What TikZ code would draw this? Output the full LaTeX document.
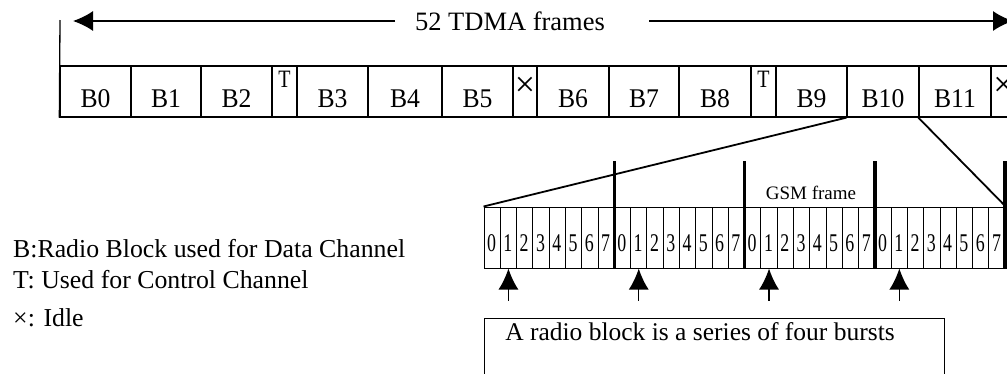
\documentclass[tikz,border=0pt]{standalone}
\usepackage{fontspec}
\setmainfont{Liberation Serif}
\newfontfamily\narrowserif{Liberation Serif}[FakeStretch=0.8]
\newfontfamily\digitserif{Liberation Serif}[FakeStretch=0.7]
\newfontfamily\cellserif{Liberation Serif}[FakeStretch=0.95]
\usetikzlibrary{arrows.meta}
\begin{document}
\begin{tikzpicture}[x=1pt,y=-1pt,
  cell/.style={draw, line width=1.3pt, inner sep=0pt, minimum height=51pt},
  btxt/.style={font=\cellserif\fontsize{27}{30}\selectfont, inner sep=0pt, anchor=base},
  ttxt/.style={font=\narrowserif\fontsize{25}{28}\selectfont, inner sep=0pt, anchor=base},
  xtxt/.style={font=\fontsize{36}{40}\selectfont, inner sep=0pt},
  slot/.style={draw, line width=1pt, inner sep=0pt, minimum width=16.29pt, minimum height=61pt},
  digit/.style={font=\digitserif\fontsize{25.5}{28}\selectfont, inner sep=0pt, anchor=base},
  thickbar/.style={line width=3.5pt},
  diag/.style={line width=1.8pt},
  framel/.style={line width=1.3pt},
  longarrow/.style={line width=1.5pt, -{Latex[length=20pt,width=20pt]}},
  uparrow/.style={line width=1.5pt, -{Latex[length=21pt,width=20pt]}},
  lbl/.style={font=\fontsize{25.8}{30}\selectfont, inner sep=0pt, anchor=base west}
]
\fill[white] (0,0) rectangle (1007,373);
\useasboundingbox (0,0) rectangle (1007,373);

% top row of cells
\foreach \i/\l/\r in {0/60/131,1/131/201,2/201/272,3/272/297,4/297/368,5/368/442,6/442/513,7/513/537,8/537/609,9/609/679,10/679/751,11/751/776,12/776/847,13/847/919,14/919/991,15/991/1016}{
  \node[cell, minimum width={\r-\l}] (c\i) at ({(\l+\r)/2},91.5) {};
}
\foreach \i/\t in {0/B0,1/B1,2/B2,4/B3,5/B4,6/B5,8/B6,9/B7,10/B8,12/B9,13/B10,14/B11}{
  \node[btxt] (t\i) at ([yshift=-15.5pt]c\i.center) {\t};
}
\foreach \i in {3,11}{
  \node[ttxt] (t\i) at ([yshift=4.5pt]c\i.center) {T};
}
\foreach \i in {7,15}{
  \node[xtxt] (t\i) at ([yshift=5pt]c\i.center) {×};
}

% left bracket line
\coordinate (vt) at (60,20);
\draw[framel] (vt) -- (c0.south west);

% 52 TDMA frames arrow
\node[font=\fontsize{26.5}{30}\selectfont, inner sep=0pt, anchor=base] (lab) at (510,30) {52 TDMA frames};
\coordinate (al) at (395,21);
\coordinate (ltip) at (73,21);
\coordinate (ar) at (649,21);
\coordinate (rtip) at (1013,21);
\draw[longarrow] (al) -- (ltip);
\draw[longarrow] (ar) -- (rtip);

% strip of slots
\foreach \f in {0,...,3}{
  \foreach \s in {0,...,7}{
    \pgfmathsetmacro\xl{484+130.3*\f+16.2875*\s}
    \node[slot] (s\f\s) at (\xl+8.144,237.5) {};
    \node[digit] (d\f\s) at (\xl+7.6,251) {\s};
  }
}
\foreach \f in {1,...,4}{
  \coordinate (bt\f) at ({484+130.3*\f},161);
  \draw[thickbar] (bt\f) -- (bt\f |- s00.south);
}
\node[font=\fontsize{19}{22}\selectfont, inner sep=0pt, anchor=base] (gsm) at (811,199) {GSM frame};

% zoom lines
\draw[diag] (c13.south west) -- (s00.north west);
\draw[diag] (c14.south west) -- (s37.north east);

% up arrows
\foreach \f in {0,...,3}{
  \coordinate (at\f) at ([yshift=-32pt]s\f1.south);
  \draw[uparrow] (at\f) -- (s\f1.south);
}

% explanation box
\node[draw, line width=1.3pt, inner sep=0pt, minimum width=460pt, minimum height=80pt, anchor=north west] (rbox) at (484,318) {};
\node[font=\fontsize{25.5}{30}\selectfont, inner sep=0pt, anchor=base] (rtxt) at (700,340) {A radio block is a series of four bursts};

% legend
\node[lbl] (lg1) at (13,257) {B:Radio Block used for Data Channel};
\node[lbl] (lg2) at (13,288) {T: Used for Control Channel};
\node[lbl] (lg3) at (13,326) {×: Idle};
\end{tikzpicture}
\end{document}
